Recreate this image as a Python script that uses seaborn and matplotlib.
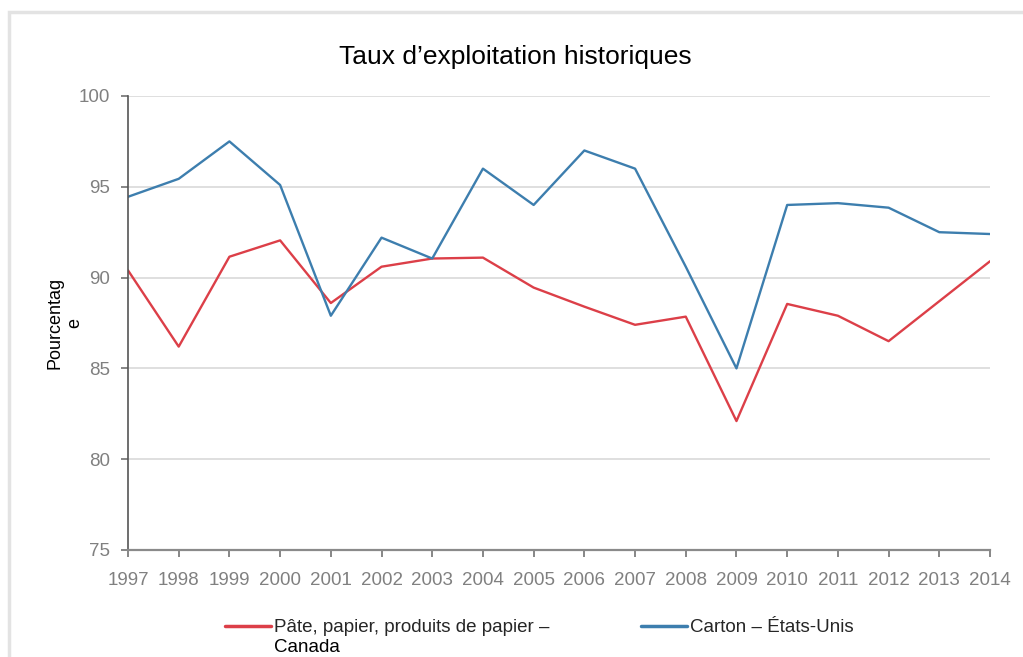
import matplotlib
matplotlib.use("Agg")
import matplotlib.pyplot as plt
from matplotlib.patches import Rectangle
import pandas as pd
import seaborn as sns

# Operating rates, in percent
years = list(range(1997, 2015))
pulp_paper_canada = [90.4, 86.2, 91.15, 92.05, 88.6, 90.6, 91.05, 91.1, 89.45,
                     88.4, 87.4, 87.85, 82.1, 88.55, 87.9, 86.5, 88.7, 90.9]
board_us = [94.45, 95.44, 97.5, 95.1, 87.9, 92.2, 91.05, 96.0, 94.0,
            97.0, 96.0, 90.6, 85.0, 94.0, 94.1, 93.85, 92.5, 92.4]

series_names = ["Pâte, papier, produits de papier – Canada", "Carton – États-Unis"]
legend_lines = [["Pâte, papier, produits de papier –", "Canada"], ["Carton – États-Unis"]]
y_ticks = [75, 80, 85, 90, 95, 100]
title = "Taux d’exploitation historiques"
y_label = "Pourcentag\ne"

sns.set_theme(style="white")
plt.rcParams["font.family"] = ["Liberation Sans", "DejaVu Sans"]

df = pd.DataFrame({
    "Année": years * 2,
    "Taux": pulp_paper_canada + board_us,
    "Série": [series_names[0]] * len(years) + [series_names[1]] * len(years),
})

palette = {series_names[0]: "#dc3f48", series_names[1]: "#3d7eae"}

fig = plt.figure(figsize=(10.23, 6.57), dpi=100)
fig.patch.set_facecolor("white")

# light outer frame
fig.patches.append(Rectangle((9 / 1023, -0.1), 1.2, 1 - 12 / 657 + 0.1,
                             transform=fig.transFigure, fill=False,
                             edgecolor="#e3e3e3", linewidth=2.5, zorder=0))

ax = fig.add_axes([128 / 1023, 1 - 550 / 657, 862 / 1023, 454 / 657])

sns.lineplot(data=df, x="Année", y="Taux", hue="Série", palette=palette,
             linewidth=1.7, ax=ax, legend=True)

tick_font = dict(fontsize=13.5, color="#808080")
ax.set_xlim(1997, 2014)
ax.set_ylim(75, 100)
ax.set_xticks(years)
ax.set_yticks(y_ticks)
ax.set_xticklabels([str(y) for y in years], **tick_font)
ax.set_yticklabels([str(v) for v in y_ticks], **tick_font)

for v in y_ticks[1:]:
    ax.axhline(v, color="#dcdcdc", linewidth=1.3, zorder=0)

for side in ("top", "right"):
    ax.spines[side].set_visible(False)
ax.spines["left"].set_color("#555555")
ax.spines["left"].set_linewidth(1.2)
ax.spines["bottom"].set_color("#8a8a8a")
ax.spines["bottom"].set_linewidth(1.6)
ax.tick_params(axis="both", which="major", direction="out", length=5, width=1.1,
               colors="#666666", bottom=True, left=True)
ax.tick_params(axis="x", pad=11, labelcolor="#808080")
ax.tick_params(axis="y", pad=8, labelcolor="#808080")
ax.set_xlabel("")

ax.set_ylabel(y_label, fontsize=13, color="black", multialignment="center", labelpad=0)
ax.yaxis.set_label_coords(-0.073, 0.5)
ax.yaxis.label.set_va("center")

fig.text(515 / 1023, 1 - 57 / 657, title, ha="center", va="center",
         fontsize=19, color="black")

handles, _ = ax.get_legend_handles_labels()
leg = ax.legend(handles, [lines[0] for lines in legend_lines], loc="upper left",
                bbox_to_anchor=(225 / 1023, 1 - 619 / 657),
                bbox_transform=fig.transFigure, ncol=2, frameon=False, fontsize=13.5,
                handlelength=2.45, handletextpad=0.16, columnspacing=4.9,
                borderaxespad=0, borderpad=0)
for line in leg.get_lines():
    line.set_linewidth(2.5)

# second line of the first legend entry, set under its first line
fig.canvas.draw()
first = leg.get_texts()[0].get_window_extent()
inv = fig.transFigure.inverted()
x0, y0 = inv.transform((first.x0, first.y0))
fig.text(x0, y0 - 3 / 657, legend_lines[0][1], ha="left", va="top",
         fontsize=13.5, color="black")

fig.savefig("out.png", dpi=100, facecolor="white")
